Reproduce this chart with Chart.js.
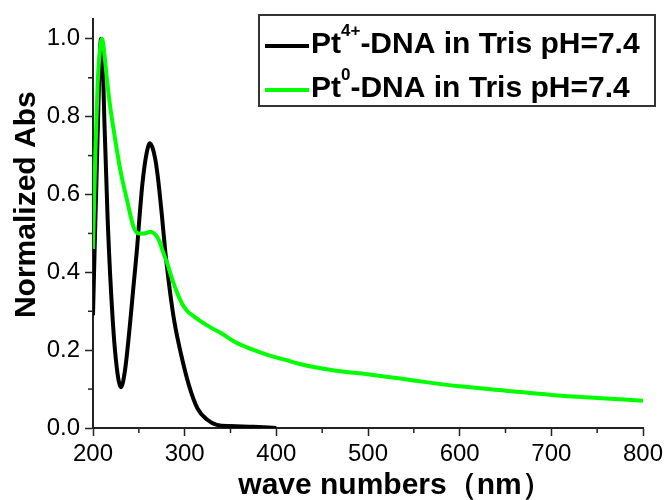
<!DOCTYPE html>
<html>
<head>
<meta charset="utf-8">
<script src="https://cdn.jsdelivr.net/npm/chart.js@4.4.1/dist/chart.umd.min.js"></script>
<style>
  html, body { margin: 0; padding: 0; background: #fff; }
  #wrap { width: 668px; height: 500px; }
</style>
</head>
<body>
<div id="wrap"><canvas id="absChart" width="668" height="500"></canvas></div>
<script>
// Pt4+-DNA spectrum (black)
const pt4Wavelength = [200, 202, 203.6, 206.5, 208.7, 210.5, 212.4, 216, 221.5, 226.2, 230.6, 235, 240.8, 244, 248, 251, 254, 258, 262, 265, 268, 271, 275, 279, 284, 289, 296, 304.6, 314, 324.7, 335, 350, 375, 400];
const pt4Abs = [0.29, 0.48, 0.62, 0.88, 1.0, 0.95, 0.79, 0.535, 0.278, 0.15, 0.105, 0.15, 0.278, 0.36, 0.46, 0.55, 0.63, 0.70, 0.732, 0.72, 0.69, 0.64, 0.55, 0.45, 0.35, 0.27, 0.19, 0.11, 0.05, 0.021, 0.008, 0.005, 0.003, 0.0];

// Pt0-DNA spectrum (green)
const pt0Wavelength = [200, 202.5, 205, 207.5, 209.8, 212, 215, 218.5, 222.6, 229.9, 237.2, 244.5, 250, 256, 262.8, 267.5, 271.9, 276, 281, 286, 292, 297, 303, 310, 317.6, 330, 339.5, 353.9, 370, 390.3, 410, 426.8, 463.2, 500, 550, 600, 650, 700, 750, 800];
const pt0Abs = [0.46, 0.70, 0.88, 0.97, 1.0, 0.97, 0.90, 0.83, 0.765, 0.662, 0.585, 0.515, 0.50, 0.50, 0.504, 0.498, 0.483, 0.455, 0.423, 0.385, 0.346, 0.32, 0.30, 0.287, 0.274, 0.256, 0.244, 0.222, 0.205, 0.188, 0.175, 0.164, 0.148, 0.138, 0.122, 0.107, 0.096, 0.085, 0.077, 0.070];

const seriesLabels = ['Pt\u2074\u207A-DNA in Tris pH=7.4', 'Pt\u2070-DNA in Tris pH=7.4'];
const legendBase = ['Pt', 'Pt'];
const legendSup = ['4+', '0'];
const legendRest = ['-DNA in Tris pH=7.4', '-DNA in Tris pH=7.4'];
const seriesColors = ['#000000', '#00ff00'];

const xTitle = 'wave numbers\uFF08nm\uFF09';
const yTitle = 'Normalized Abs';
const xTickValues = [200, 300, 400, 500, 600, 700, 800];
const yTickValues = [0, 0.2, 0.4, 0.6, 0.8, 1.0];
const xMinorTicks = [250, 350, 450, 550, 650, 750];
const yMinorTicks = [0.1, 0.3, 0.5, 0.7, 0.9];

const FONT = "'Liberation Sans', Arial, sans-serif";
const AXIS_COLOR = '#222';

const toPoints = (xs, ys) => xs.map((x, i) => ({x: x, y: ys[i]}));

// small ticks between the labelled ones
const minorTicks = {
    id: 'minorTicks',
    afterDraw(chart) {
        const ctx = chart.ctx;
        const xs = chart.scales.x;
        const ys = chart.scales.y;
        ctx.save();
        ctx.strokeStyle = AXIS_COLOR;
        ctx.lineWidth = 1.5;
        xMinorTicks.forEach(v => {
            const px = xs.getPixelForValue(v);
            ctx.beginPath();
            ctx.moveTo(px, xs.top);
            ctx.lineTo(px, xs.top + 5);
            ctx.stroke();
        });
        yMinorTicks.forEach(v => {
            const py = ys.getPixelForValue(v);
            ctx.beginPath();
            ctx.moveTo(ys.right, py);
            ctx.lineTo(ys.right - 5, py);
            ctx.stroke();
        });
        ctx.restore();
    }
};

// axis titles, placed like in the original figure
const axisTitles = {
    id: 'axisTitles',
    afterDraw(chart) {
        const ctx = chart.ctx;
        const area = chart.chartArea;
        ctx.save();
        ctx.fillStyle = '#000';
        ctx.font = 'bold 30px ' + FONT;
        ctx.textAlign = 'center';
        ctx.textBaseline = 'alphabetic';
        ctx.fillText(xTitle, (area.left + area.right) / 2 + 27, 494);
        ctx.translate(35, (area.top + area.bottom) / 2 - 19);
        ctx.rotate(-Math.PI / 2);
        ctx.fillText(yTitle, 0, 0);
        ctx.restore();
    }
};

// boxed legend with superscripts
const boxLegend = {
    id: 'boxLegend',
    afterDraw(chart) {
        const ctx = chart.ctx;
        const box = {x: 259, y: 15, w: 396, h: 91};
        ctx.save();
        ctx.strokeStyle = '#333';
        ctx.lineWidth = 2;
        ctx.strokeRect(box.x, box.y, box.w, box.h);
        chart.data.datasets.forEach((ds, i) => {
            const lineY = box.y + 31 + i * 44;
            const baseY = box.y + 38 + i * 44;
            ctx.strokeStyle = ds.borderColor;
            ctx.lineWidth = 4;
            ctx.beginPath();
            ctx.moveTo(box.x + 6, lineY);
            ctx.lineTo(box.x + 50, lineY);
            ctx.stroke();
            ctx.fillStyle = '#000';
            ctx.textBaseline = 'alphabetic';
            ctx.textAlign = 'left';
            let tx = box.x + 52;
            ctx.font = 'bold 30px ' + FONT;
            ctx.fillText(legendBase[i], tx, baseY);
            tx += ctx.measureText(legendBase[i]).width;
            ctx.font = 'bold 17px ' + FONT;
            ctx.fillText(legendSup[i], tx, baseY - 17);
            tx += ctx.measureText(legendSup[i]).width;
            ctx.font = 'bold 30px ' + FONT;
            ctx.fillText(legendRest[i], tx, baseY);
        });
        ctx.restore();
    }
};

new Chart(document.getElementById('absChart').getContext('2d'), {
    type: 'line',
    data: {
        datasets: [{
            label: seriesLabels[0],
            data: toPoints(pt4Wavelength, pt4Abs),
            borderColor: seriesColors[0],
            borderWidth: 4,
            pointRadius: 0,
            cubicInterpolationMode: 'monotone',
            fill: false,
            order: 1
        }, {
            label: seriesLabels[1],
            data: toPoints(pt0Wavelength, pt0Abs),
            borderColor: seriesColors[1],
            borderWidth: 4,
            pointRadius: 0,
            cubicInterpolationMode: 'monotone',
            fill: false,
            order: 0
        }]
    },
    options: {
        responsive: false,
        animation: false,
        layout: { padding: { top: 18, right: 25, left: 0, bottom: 0 } },
        plugins: {
            legend: { display: false },
            tooltip: { enabled: false }
        },
        scales: {
            x: {
                type: 'linear',
                min: 200,
                max: 800,
                afterBuildTicks: scale => {
                    scale.ticks = xTickValues.map(v => ({value: v}));
                },
                ticks: {
                    color: '#000',
                    padding: 4,
                    font: { family: FONT, size: 24 },
                    maxRotation: 0
                },
                grid: {
                    drawOnChartArea: false,
                    drawTicks: true,
                    tickLength: 8,
                    tickColor: AXIS_COLOR,
                    tickWidth: 1.5
                },
                border: { display: true, color: AXIS_COLOR, width: 2 },
                afterFit: scale => { scale.height = 72; }
            },
            y: {
                min: 0,
                max: 1.05,
                afterBuildTicks: scale => {
                    scale.ticks = yTickValues.map(v => ({value: v}));
                },
                ticks: {
                    color: '#000',
                    padding: 5,
                    font: { family: FONT, size: 24 },
                    callback: v => v.toFixed(1)
                },
                grid: {
                    drawOnChartArea: false,
                    drawTicks: true,
                    tickLength: 8,
                    tickColor: AXIS_COLOR,
                    tickWidth: 1.5
                },
                border: { display: true, color: AXIS_COLOR, width: 2 },
                afterFit: scale => { scale.width = 93; }
            }
        }
    },
    plugins: [minorTicks, axisTitles, boxLegend]
});
</script>
</body>
</html>
